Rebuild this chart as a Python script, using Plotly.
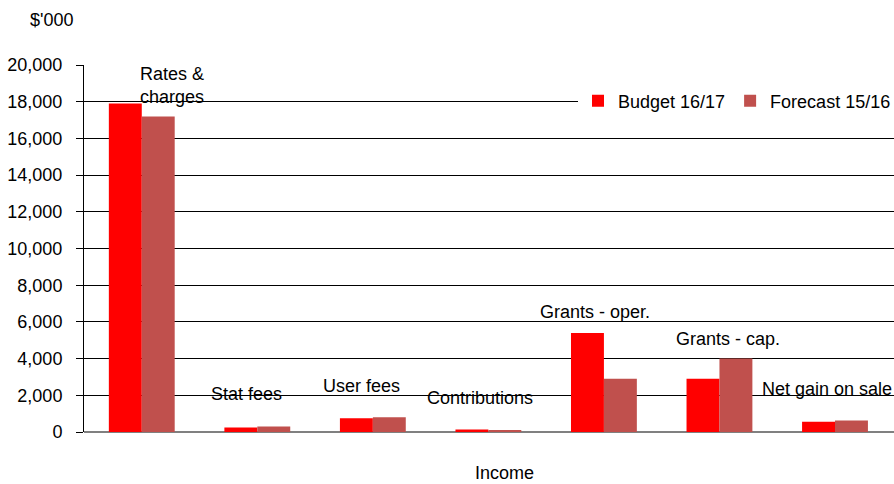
import plotly.graph_objects as go

# Income by source ($'000)
categories = ["Rates & charges", "Stat fees", "User fees", "Contributions",
              "Grants - oper.", "Grants - cap.", "Net gain on sale"]
label_text = ["Rates &<br>charges", "Stat fees", "User fees", "Contributions",
              "Grants - oper.", "Grants - cap.", "Net gain on sale"]
budget_1617 = [17900, 250, 750, 130, 5400, 2900, 560]
forecast_1516 = [17200, 300, 800, 100, 2900, 4000, 620]

# label placement (data y, pixel x offset)
label_y = [18900, 2080, 2510, 1860, 6560, 5080, 2350]
label_dx = [30, -11, -11, -8, -9, 9, -8]

FONT = "Liberation Sans, Arial, sans-serif"
FS = 18

W, H = 894, 484
ML, MR, MT, MB = 84, 0, 65, 52
pw, ph = W - ML - MR, H - MT - MB

fig = go.Figure()
fig.add_trace(go.Bar(name="Budget 16/17", x=categories, y=budget_1617,
                     marker=dict(color="#FF0000", line=dict(width=0))))
fig.add_trace(go.Bar(name="Forecast 15/16", x=categories, y=forecast_1516,
                     marker=dict(color="#C0504D", line=dict(width=0))))

for cat, txt, ly, dx in zip(categories, label_text, label_y, label_dx):
    fig.add_annotation(x=cat, y=ly, text=txt, showarrow=False, xshift=dx,
                       font=dict(family=FONT, size=FS, color="#000"),
                       xref="x", yref="y", yanchor="middle")

fig.add_annotation(text="$'000", x=(51 - ML) / pw, y=(H - MB - 20) / ph,
                   xref="paper", yref="paper", xanchor="center", yanchor="middle",
                   showarrow=False, font=dict(family=FONT, size=FS, color="#000"))
fig.add_annotation(text="Income", x=(504 - ML) / pw, y=(H - MB - 473) / ph,
                   xref="paper", yref="paper", xanchor="center", yanchor="middle",
                   showarrow=False, font=dict(family=FONT, size=FS, color="#000"))

fig.update_layout(
    width=W, height=H,
    margin=dict(l=ML, r=MR, t=MT, b=MB, pad=0, autoexpand=False),
    paper_bgcolor="white", plot_bgcolor="white",
    barmode="group", bargap=0.43, bargroupgap=0,
    font=dict(family=FONT, size=FS, color="#000"),
    showlegend=True,
    legend=dict(orientation="h", x=(578 - ML) / pw, y=(432 - 101) / ph,
                xanchor="left", yanchor="middle", bgcolor="white",
                font=dict(family=FONT, size=FS, color="#000"),
                itemwidth=30, tracegroupgap=0),
)
fig.update_xaxes(showticklabels=False, showgrid=False, ticks="",
                 showline=False, zeroline=False)
fig.update_yaxes(range=[0, 20000], dtick=2000, tickformat=",d",
                 showgrid=True, gridcolor="#000", gridwidth=1,
                 zeroline=True, zerolinecolor="#808080", zerolinewidth=2,
                 showline=True, linecolor="#000", linewidth=1,
                 ticks="outside", ticklen=7, tickcolor="#000",
                 ticklabelstandoff=10,
                 tickfont=dict(family=FONT, size=FS, color="#000"))

fig.write_html("out.html")
